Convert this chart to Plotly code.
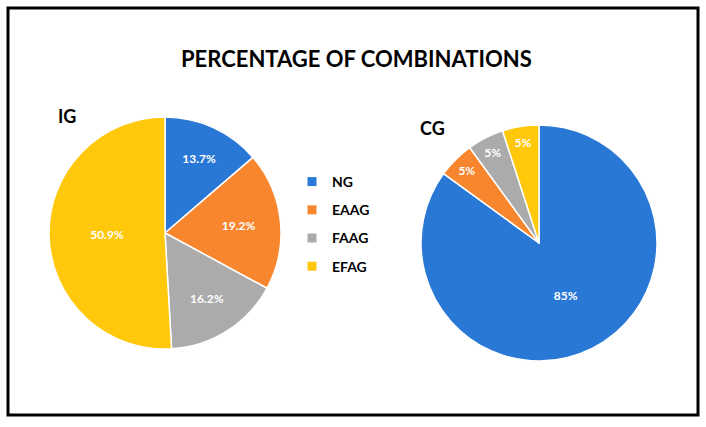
import plotly.graph_objects as go

labels = ["NG", "EAAG", "FAAG", "EFAG"]
ig_values = [13.7, 19.2, 16.2, 50.9]
cg_values = [85, 5, 5, 5]
colors = ["#2A78D6", "#F8862E", "#ABABAB", "#FFC80A"]

W, H = 706, 427
FONT = "Lato"

def px_x(v):
    return v / W

def px_y(v):
    return (H - v) / H

fig = go.Figure()

fig.add_trace(go.Pie(
    labels=labels, values=ig_values, sort=False, direction="clockwise", rotation=0,
    marker=dict(colors=colors, line=dict(color="white", width=1.5)),
    texttemplate="%{value:.1f}%", textposition="inside", insidetextorientation="horizontal",
    textfont=dict(color="white", size=12, family=FONT, weight="bold"),
    domain=dict(x=[px_x(49), px_x(281)], y=[px_y(349), px_y(117)]),
    showlegend=False, hoverinfo="label+percent",
))
fig.add_trace(go.Pie(
    labels=labels, values=cg_values, sort=False, direction="clockwise", rotation=0,
    marker=dict(colors=colors, line=dict(color="white", width=1.5)),
    texttemplate="%{value:.0f}%", textposition="inside", insidetextorientation="horizontal",
    textfont=dict(color="white", size=12, family=FONT, weight="bold"),
    domain=dict(x=[px_x(421), px_x(657)], y=[px_y(361), px_y(125)]),
    showlegend=False, hoverinfo="label+percent",
))

# legend entries
for i, (lab, col) in enumerate(zip(labels, colors)):
    fig.add_trace(go.Scatter(
        x=[None], y=[None], mode="markers", name=lab, legendgroup=f"g{i}",
        marker=dict(symbol="square", size=9, color=col),
        showlegend=True,
    ))

fig.update_layout(
    width=W, height=H,
    margin=dict(l=0, r=0, t=0, b=0),
    paper_bgcolor="white", plot_bgcolor="white",
    xaxis=dict(visible=False), yaxis=dict(visible=False),
    legend=dict(
        x=px_x(292), y=px_y(166), xanchor="left", yanchor="top",
        font=dict(family=FONT, size=14, color="black", weight="bold"),
        tracegroupgap=7, bgcolor="rgba(0,0,0,0)", itemwidth=30,
    ),
    font=dict(family=FONT),
    annotations=[
        dict(text="<b>PERCENTAGE OF COMBINATIONS</b>", x=px_x(356), y=px_y(58),
             xref="paper", yref="paper", showarrow=False,
             font=dict(family=FONT, size=22, color="black"), xanchor="center", yanchor="middle"),
        dict(text="<b>IG</b>", x=px_x(56), y=px_y(116), xref="paper", yref="paper",
             showarrow=False, font=dict(family=FONT, size=18, color="black"),
             xanchor="left", yanchor="middle"),
        dict(text="<b>CG</b>", x=px_x(418), y=px_y(128), xref="paper", yref="paper",
             showarrow=False, font=dict(family=FONT, size=18, color="black"),
             xanchor="left", yanchor="middle"),
    ],
    shapes=[
        dict(type="rect", xref="paper", yref="paper",
             x0=px_x(8), x1=px_x(698), y0=px_y(415), y1=px_y(8),
             line=dict(color="black", width=3), fillcolor="rgba(0,0,0,0)"),
    ],
)

fig.write_html("out.html", config={"displayModeBar": False},
               post_script="document.body.style.margin='0';")
